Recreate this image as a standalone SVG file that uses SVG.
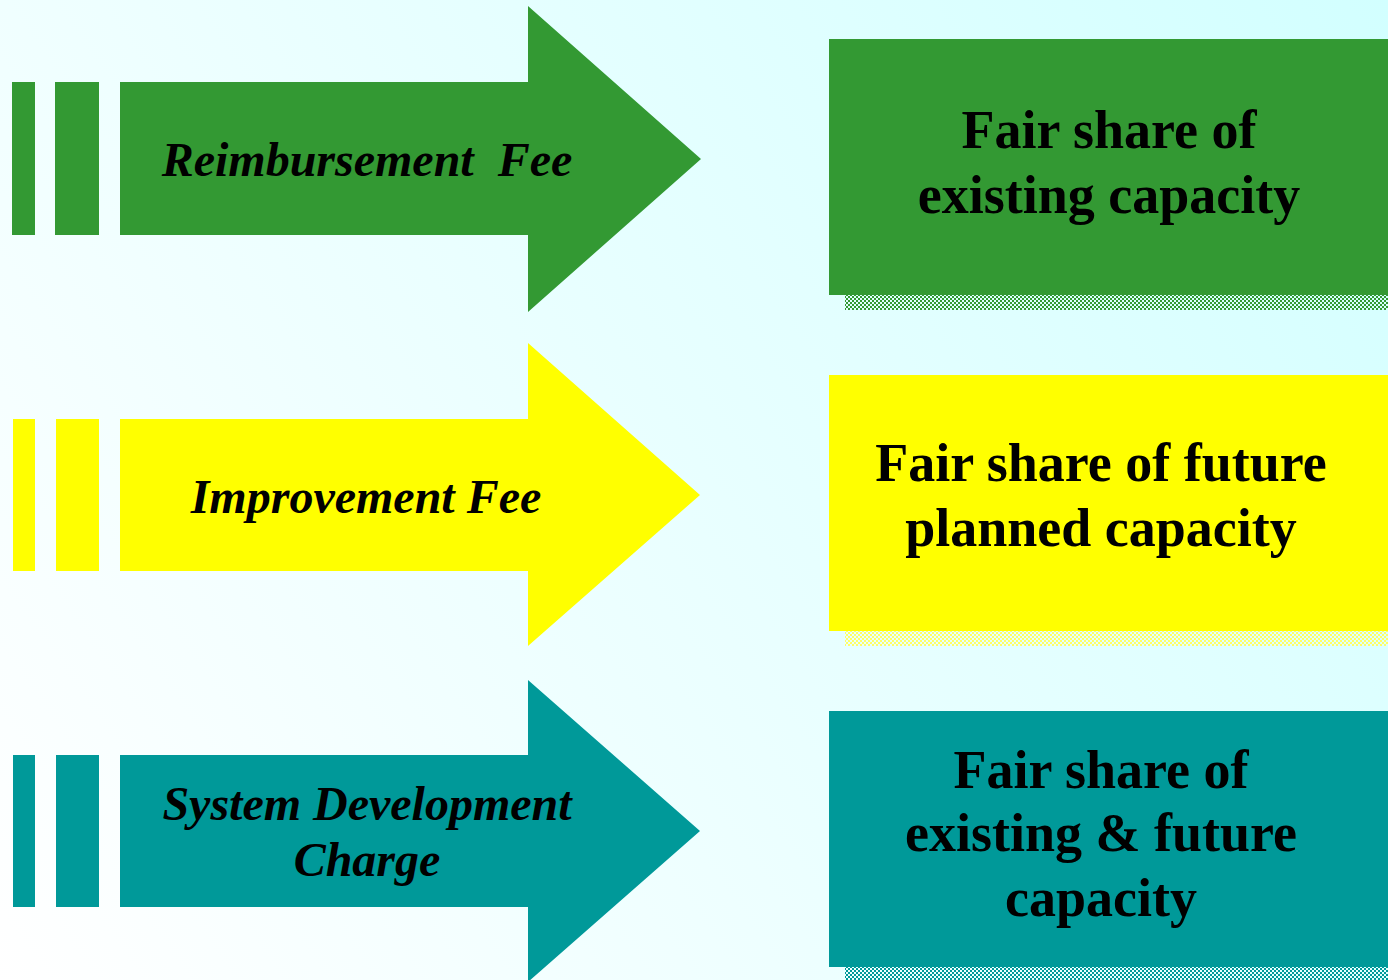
<svg xmlns="http://www.w3.org/2000/svg" width="1388" height="980" viewBox="0 0 1388 980">
  <defs>
    <linearGradient id="bg" x1="1388" y1="0" x2="0" y2="980" gradientUnits="userSpaceOnUse">
      <stop offset="0" stop-color="#D2FFFF"/>
      <stop offset="1" stop-color="#FFFFFF"/>
    </linearGradient>
    <pattern id="chkG" width="4" height="4" patternUnits="userSpaceOnUse">
      <rect x="0" y="0" width="2" height="2" fill="#339933"/>
      <rect x="2" y="2" width="2" height="2" fill="#339933"/>
    </pattern>
    <pattern id="chkY" width="4" height="4" patternUnits="userSpaceOnUse">
      <rect x="0" y="0" width="2" height="2" fill="#FFFF66"/>
      <rect x="2" y="2" width="2" height="2" fill="#FFFF66"/>
    </pattern>
    <pattern id="chkT" width="4" height="4" patternUnits="userSpaceOnUse">
      <rect x="0" y="0" width="2" height="2" fill="#009999"/>
      <rect x="2" y="2" width="2" height="2" fill="#009999"/>
    </pattern>
  </defs>
  <style>
    .arrowText { font-family: "Liberation Serif", "Times New Roman", serif; font-weight: bold; font-style: italic; font-size: 48px; fill: #000; text-anchor: middle; }
    .boxText { font-family: "Liberation Serif", "Times New Roman", serif; font-weight: bold; font-size: 54px; fill: #000; text-anchor: middle; }
    .green { fill: #339933; }
    .yellow { fill: #FFFF00; }
    .teal { fill: #009999; }
  </style>
  <rect x="0" y="0" width="1388" height="980" fill="url(#bg)"/>

  <g id="arrow-reimbursement">
    <rect class="green" x="12" y="82" width="23" height="153"/>
    <rect class="green" x="55" y="82" width="44" height="153"/>
    <polygon class="green" points="120,82 528,82 528,6 701,159 528,312 528,235 120,235"/>
    <text class="arrowText" x="367" y="176" xml:space="preserve">Reimbursement  Fee</text>
  </g>

  <g id="arrow-improvement">
    <rect class="yellow" x="13" y="419" width="22" height="152"/>
    <rect class="yellow" x="56" y="419" width="43" height="152"/>
    <polygon class="yellow" points="120,419 528,419 528,343 700,495 528,646 528,571 120,571"/>
    <text class="arrowText" x="366" y="513">Improvement Fee</text>
  </g>

  <g id="arrow-sdc">
    <rect class="teal" x="13" y="755" width="22" height="152"/>
    <rect class="teal" x="56" y="755" width="43" height="152"/>
    <polygon class="teal" points="120,755 528,755 528,680 700,831 528,982 528,907 120,907"/>
    <text class="arrowText" x="367" y="820">System Development</text>
    <text class="arrowText" x="367" y="876">Charge</text>
  </g>

  <g id="box-existing">
    <rect x="845" y="295" width="543" height="15" fill="url(#chkG)"/>
    <rect class="green" x="829" y="39" width="559" height="256"/>
    <text class="boxText" x="1109" y="148">Fair share of</text>
    <text class="boxText" x="1109" y="213">existing capacity</text>
  </g>

  <g id="box-future">
    <rect x="845" y="631" width="543" height="15" fill="url(#chkY)"/>
    <rect class="yellow" x="829" y="375" width="559" height="256"/>
    <text class="boxText" x="1101" y="481">Fair share of future</text>
    <text class="boxText" x="1101" y="546">planned capacity</text>
  </g>

  <g id="box-both">
    <rect x="845" y="967" width="543" height="13" fill="url(#chkT)"/>
    <rect class="teal" x="829" y="711" width="559" height="256"/>
    <text class="boxText" x="1101" y="788">Fair share of</text>
    <text class="boxText" x="1101" y="851">existing &amp; future</text>
    <text class="boxText" x="1101" y="916">capacity</text>
  </g>

  <g id="connectors"></g>
</svg>
